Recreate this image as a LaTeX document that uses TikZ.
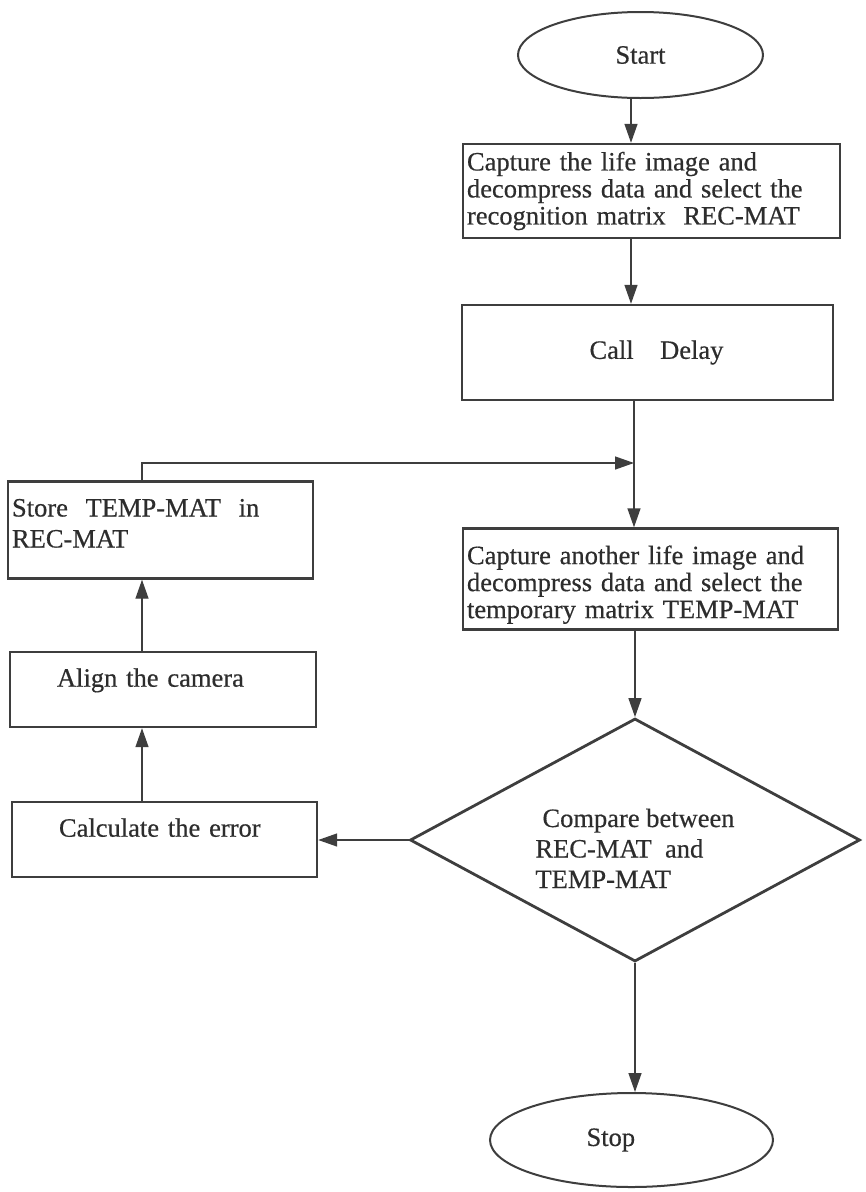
\documentclass[tikz,border=0pt]{standalone}
\usepackage{fontspec}
\setmainfont{Liberation Serif}[FakeBold=0.5]
\usetikzlibrary{arrows.meta,shapes.geometric}
\definecolor{ink}{RGB}{62,62,62}
\definecolor{type}{RGB}{45,45,45}
\begin{document}
\begin{tikzpicture}[x=1pt,y=-1pt,
  every node/.style={font=\fontsize{26.5}{27}\selectfont, text=type},
  stepbox/.style={draw=ink, line width=2.4pt, rectangle, inner xsep=4pt, inner ysep=0pt, align=left},
  term/.style={draw=ink, line width=2pt, ellipse, inner sep=0pt},
  decide/.style={draw=ink, line width=2.8pt, diamond, inner sep=0pt, align=left,
    font=\fontsize{26.5}{30.5}\selectfont},
  flow/.style={draw=ink, line width=1.4pt, -{Triangle[length=19pt,width=13pt]}},
]
\useasboundingbox (0,0) rectangle (866,1192);

% column positions for the connectors
\coordinate (colA) at (631,0);
\coordinate (colB) at (634,463);
\coordinate (colL) at (142,0);

% main column
\node[term, minimum width=245pt, minimum height=86pt] (start) at (640.5,55) {Start};
\node[stepbox, minimum width=377pt, minimum height=94pt, text width=369pt] (box1) at (651.5,191)
  {Capture the life image and\\decompress data and select the\\recognition matrix~~REC-MAT};
\node[stepbox, minimum width=371pt, minimum height=95pt, text width=363pt, align=center] (box2) at (647.5,352.5)
  {\hspace*{18pt}Call~~~Delay};
\node[stepbox, minimum width=375pt, minimum height=101pt, text width=367pt] (box3) at (650.5,579)
  {\rule{0pt}{30pt}Capture another life image and\\decompress data and select the\\temporary matrix TEMP-MAT};
\node[decide, minimum width=450pt, minimum height=243pt, shape aspect=1.85] (dia) at (635,840)
  {\rule{0pt}{35pt}\hspace*{7pt}Compare between\\REC-MAT~~and\\TEMP-MAT};
\node[term, minimum width=283pt, minimum height=94pt] (stop) at (631.5,1140)
  {\makebox[90pt][l]{Stop}};

% left column
\node[stepbox, minimum width=305pt, minimum height=94pt, text width=297pt,
  font=\fontsize{26.5}{31}\selectfont] (store) at (160.5,530)
  {\rule{0pt}{35pt}Store~~TEMP-MAT~~in\\REC-MAT\\\mbox{}};
\node[stepbox, minimum width=306pt, minimum height=75pt, text width=298pt] (align) at (163,689.5)
  {\hspace*{43pt}Align the camera\\[-3pt]\mbox{}};
\node[stepbox, minimum width=305pt, minimum height=75pt, text width=297pt] (calc) at (164.5,839.5)
  {\hspace*{43pt}Calculate the error\\[-3pt]\mbox{}};

% connectors
\draw[flow] (colA |- start.south) -- (colA |- box1.north);
\draw[flow] (colA |- box1.south) -- (colA |- box2.north);
\draw[flow] (colB |- box2.south) -- (colB |- box3.north);
\draw[flow] (colL |- store.north) |- (colB);
\draw[flow] (dia.north |- box3.south) -- (dia.north);
\draw[flow] (dia.west) -- (calc.east |- dia.west);
\draw[flow] (colL |- calc.north) -- (colL |- align.south);
\draw[flow] (colL |- align.north) -- (colL |- store.south);
\draw[flow] (dia.south) -- (dia.south |- stop.north);
\end{tikzpicture}
\end{document}
